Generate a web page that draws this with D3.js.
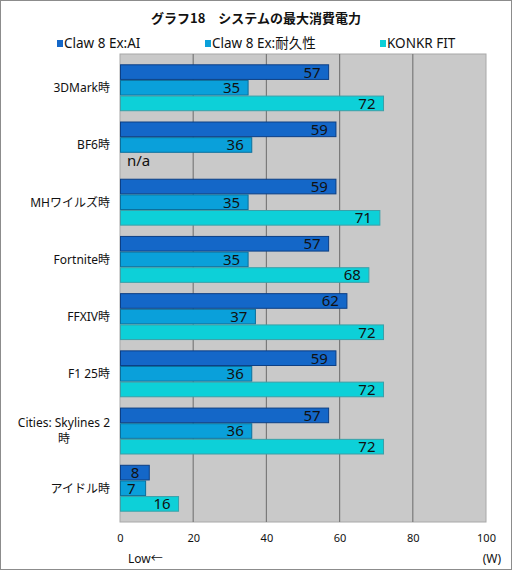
<!DOCTYPE html>
<html lang="ja">
<head>
<meta charset="UTF-8">
<title>グラフ18 システムの最大消費電力</title>
<style>
  body { margin: 0; padding: 0; background: #fff; }
  svg { display: block; font-family: "Noto Sans", "Noto Sans CJK JP", sans-serif; }
  .tick text { font-size: 11px; fill: #111; font-family: "Noto Sans", sans-serif; }
  .cat text { font-size: 12px; fill: #111; }
  .val { font-size: 15px; fill: #111; }
</style>
</head>
<body>
<svg id="chart" width="512" height="570"></svg>
<script src="https://d3js.org/d3.v7.min.js"></script>
<script>
// data
const categories = ["3DMark時", "BF6時", "MHワイルズ時", "Fortnite時", "FFXIV時", "F1 25時", "Cities: Skylines 2\n時", "アイドル時"];
const seriesNames = ["Claw 8 Ex:AI", "Claw 8 Ex:耐久性", "KONKR FIT"];
const clawAI = [57, 59, 59, 57, 62, 59, 57, 8];
const clawEndurance = [35, 36, 35, 35, 37, 36, 36, 7];
const konkrFit = [72, null, 71, 68, 72, 72, 72, 16];
const xTicks = [0, 20, 40, 60, 80, 100];

const fills = ["#1467c8", "#0aa0da", "#0dd0d8"];
const strokes = ["#0c3f85", "#0b6f9c", "#3aa0a8"];

const svg = d3.select("#chart");
const W = 512, H = 570;
const margin = { top: 54, right: 26, bottom: 48, left: 120 };
const width = W - margin.left - margin.right;
const height = H - margin.top - margin.bottom;

// outer frame
svg.append("rect")
    .attr("x", 0.5).attr("y", 0.5)
    .attr("width", W - 1).attr("height", H - 1)
    .attr("fill", "#fff").attr("stroke", "#8c8c8c");

// title
svg.append("text")
    .attr("x", W / 2).attr("y", 23)
    .attr("text-anchor", "middle")
    .attr("font-size", "13px").attr("font-weight", "bold")
    .attr("fill", "#111")
    .style("font-family", "\"Noto Sans CJK JP\", sans-serif")
    .text("グラフ18　システムの最大消費電力");

// legend
const legendX = [57, 205, 380];
const legend = svg.append("g");
seriesNames.forEach((name, i) => {
    legend.append("rect")
        .attr("x", legendX[i]).attr("y", 40)
        .attr("width", 6).attr("height", 7)
        .attr("fill", fills[i]);
    legend.append("text")
        .attr("x", legendX[i] + 7).attr("y", 48)
        .attr("font-size", "13.5px").attr("fill", "#111")
        .text(name);
});

const x = d3.scaleLinear().domain([0, 100]).range([0, width]);
const y = d3.scaleBand().domain(d3.range(categories.length)).range([0, height]).padding(0.18);
const yInner = d3.scaleBand().domain(d3.range(3)).range([0, y.bandwidth()]);

const g = svg.append("g").attr("transform", `translate(${margin.left},${margin.top})`);

// plot background
g.append("rect")
    .attr("width", width).attr("height", height)
    .attr("fill", "#c9c9c9").attr("stroke", "#a8a8a8");

// gridlines
g.selectAll("line.grid")
    .data(xTicks.slice(1, -1))
    .enter().append("line")
    .attr("class", "grid")
    .attr("x1", d => x(d)).attr("x2", d => x(d))
    .attr("y1", 0).attr("y2", height)
    .attr("stroke", "#7a7a7a").attr("stroke-width", 1.2);

// bars
const series = [clawAI, clawEndurance, konkrFit];
series.forEach((vals, s) => {
    const rows = vals.map((v, i) => ({ i, v })).filter(d => d.v != null);
    g.selectAll(`rect.bar${s}`)
        .data(rows)
        .enter().append("rect")
        .attr("class", `bar${s}`)
        .attr("x", 0.5)
        .attr("y", d => y(d.i) + yInner(s) + 0.5)
        .attr("width", d => x(d.v) - 0.5)
        .attr("height", yInner.bandwidth() - 1)
        .attr("fill", fills[s])
        .attr("stroke", strokes[s]);

    g.selectAll(`text.val${s}`)
        .data(rows)
        .enter().append("text")
        .attr("class", `val val${s}`)
        .attr("x", d => x(d.v) - (d.v < 10 ? 10 : 8))
        .attr("y", d => y(d.i) + yInner(s) + yInner.bandwidth() / 2)
        .attr("dy", "0.36em")
        .attr("text-anchor", "end")
        .text(d => d.v);

    vals.forEach((v, i) => {
        if (v == null) {
            g.append("text")
                .attr("class", "val")
                .attr("x", 7)
                .attr("y", y(i) + yInner(s) + yInner.bandwidth() / 2)
                .attr("dy", "0.36em")
                .text("n/a");
        }
    });
});

// category labels
const lineGap = 16;
const cat = svg.append("g").attr("class", "cat");
categories.forEach((c, i) => {
    const lines = c.split("\n");
    const cy = margin.top + y(i) + y.bandwidth() / 2;
    const y0 = cy - (lines.length - 1) * lineGap / 2;
    const t0 = cat.append("text")
        .attr("x", margin.left - 10)
        .attr("y", y0)
        .attr("dy", "0.36em")
        .attr("text-anchor", "end")
        .text(lines[0]);
    if (lines.length > 1) {
        const w0 = t0.node().getComputedTextLength();
        lines.slice(1).forEach((ln, k) => {
            cat.append("text")
                .attr("x", margin.left - 10 - w0 / 2)
                .attr("y", y0 + (k + 1) * lineGap)
                .attr("dy", "0.36em")
                .attr("text-anchor", "middle")
                .text(ln);
        });
    }
});

// x axis
const xAxis = g.append("g")
    .attr("transform", `translate(0,${height})`)
    .call(d3.axisBottom(x).tickValues(xTicks).tickSize(0).tickPadding(12));
xAxis.select(".domain").remove();

svg.append("text")
    .attr("x", 128).attr("y", 563)
    .attr("font-size", "12px").attr("fill", "#111")
    .text("Low←");
svg.append("text")
    .attr("x", 501).attr("y", 563)
    .attr("text-anchor", "end")
    .attr("font-size", "12px").attr("fill", "#111")
    .text("(W)");
</script>
</body>
</html>
